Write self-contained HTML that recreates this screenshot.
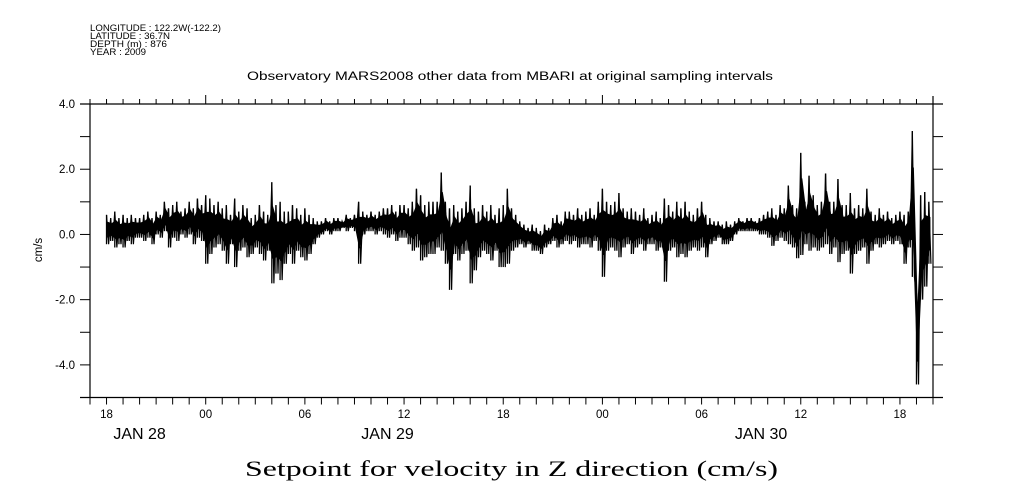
<!DOCTYPE html>
<html><head><meta charset="utf-8"><style>
html,body{margin:0;padding:0;background:#fff;}
svg{display:block;}
text{font-family:"Liberation Sans",sans-serif;fill:#000;}
</style></head><body>
<svg id="chart" width="1009" height="504" viewBox="0 0 1009 504" xmlns="http://www.w3.org/2000/svg">
<g font-size="9.5">
<text x="90" y="31" textLength="131" lengthAdjust="spacingAndGlyphs">LONGITUDE : 122.2W(-122.2)</text>
<text x="90" y="39" textLength="80" lengthAdjust="spacingAndGlyphs">LATITUDE : 36.7N</text>
<text x="90" y="47" textLength="77" lengthAdjust="spacingAndGlyphs">DEPTH (m) : 876</text>
<text x="90" y="55" textLength="56" lengthAdjust="spacingAndGlyphs">YEAR : 2009</text>
</g>
<text x="247" y="80" font-size="11.5" textLength="526" lengthAdjust="spacingAndGlyphs">Observatory MARS2008 other data from MBARI at original sampling intervals</text>
<g id="axes"></g>
<g id="series"></g>
<text transform="translate(42,250) rotate(-90)" text-anchor="middle" font-size="11.5">cm/s</text>
<text x="245" y="476" font-size="22" textLength="533" lengthAdjust="spacingAndGlyphs" style="font-family:'Liberation Serif',serif">Setpoint for velocity in Z direction (cm/s)</text>
</svg>
<script>
// data: hours since Jan 28 00:00, bins of 0.25 h starting at 18.0
const startHour = 18.0;
const stepHour = 0.25;
const hiVals = [
.6,.5,.7,.5, .6,.5,.6,.5, .5,.6,.7,.5, .7,.6,1.0,.8, .9,1.0,.7,.8, 1.0,.8,1.1,.9,
1.2,1.1,.9,1.0, .8,.9,.6,1.1, .7,.9,.8,.5, .6,.9,.7,.6, 1.6,.9,1.0,.7, .7,.9,.8,.6,
.8,.6,.5,.4, .4,.5,.4,.5, .5,.4,.6,.5, .6,1.0,.7,.6, .7,.6,.7,.8, .8,.9,.7,.9,
.9,.8,1.0,1.4, 1.2,.9,1.0,1.0, 1.0,1.9,1.0,.8, .9,.7,.8,1.0, 1.5,.8,.7,.9, .7,.9,.6,.8,
.9,1.4,.8,.6, .4,.3,.2,.3, .2,.1,.3,.2, .5,.6,.4,.7, .7,.6,.8,.6, .7,.8,.6,1.0,
1.4,1.0,.9,1.0, 1.27,.8,.7,.8, .7,.6,.8,.5, .6,.7,.5,1.1, .9,.7,1.0,.8, 1.0,.7,.6,.8,
1.0,.6,.5,.4, .4,.3,.4,.3, .4,.5,.4,.5, .5,.4,.5,.6, .7,.8,.6,.9, .8,1.5,.9,.8,
2.5,1.0,1.8,1.2, .9,1.0,1.87,1.0, 1.0,1.7,.9,.9, 1.27,.8,.9,.8, 1.4,.7,.6,.8, .6,.7,.5,.6,
.7,.6,.7,3.17, -1.8,1.2,1.3,1.0];
const loVals = [
-.3,-.2,-.4,-.3, -.4,-.2,-.3,-.1, -.1,-.2,-.1,-.3, 0,-.1,.1,-.4, -.1,-.2,0,-.1, 0,-.3,-.1,-.2,
-.9,-.6,-.4,-.3, -.5,-.9,-.3,-1.0, -.5,-.4,-.7,-.6, -.4,-.6,-.8,-.5, -1.5,-1.2,-1.4,-.9, -.6,-.9,-.5,-.7,
-.8,-.6,-.3,-.1, 0,.1,0,.1, .1,.2,.1,.2, .1,-.9,0,.1, .1,0,.1,0, -.1,0,-.2,-.1,
-.1,-.3,-.5,-.4, -.8,-.7,-.6,-.6, -.4,-.5,-.9,-1.7, -.6,-.8,-.6,-.5, -1.5,-1.1,-.7,-.5, -.6,-.8,-.5,-1.0,
-1.0,-.9,-.5,-.4, -.3,-.4,-.3,-.5, -.5,-.6,-.4,-.3, -.2,-.4,-.3,-.2, -.3,-.2,-.4,-.3, -.3,-.4,-.2,-.5,
-1.3,-.5,-.4,-.5, -.7,-.4,-.3,-.6, -.4,-.3,-.5,-.3, -.3,-.5,-.4,-1.45, -.5,-.4,-.7,-.6, -.7,-.5,-.4,-.5,
-.4,-.7,-.3,-.2, -.1,-.3,-.3,-.2, 0,.1,.1,.1, .1,.1,0,0, -.1,-.35,-.2,-.1, -.2,-.3,-.4,-.73,
-.63,-.3,-.5,-.4, -.5,-.4,-.3,-.6, -.4,-.85,-.6,-.5, -1.2,-.6,-.5,-.4, -.9,-.5,-.3,-.4, -.3,-.2,-.3,-.2,
-.3,-.9,-.4,-1.3, -4.6,-2.0,-1.6,-.9];
const yTickVals = [4, 3, 2, 1, 0, -1, -2, -3, -4];
const yTickLabels = ["4.0", "", "2.0", "", "0.0", "", "-2.0", "", "-4.0"];
const xLabelHours = [18, 24, 30, 36, 42, 48, 54, 60, 66];
const xLabelTexts = ["18", "00", "06", "12", "18", "00", "06", "12", "18"];
const dayHours = [20, 35, 57.6];
const dayLabels = ["JAN 28", "JAN 29", "JAN 30"];
const xMin = 17, xMax = 68, yMin = -5, yMax = 4;

const L = 90, R = 933, T = 104, B = 397.5;
const xs = h => L + (h - xMin) / (xMax - xMin) * (R - L);
const ys = v => B - (v - yMin) / (yMax - yMin) * (B - T);
const NS = "http://www.w3.org/2000/svg";
const axes = document.getElementById('axes');
const series = document.getElementById('series');
function mk(tag, attrs, parent) {
  const e = document.createElementNS(NS, tag);
  for (const k in attrs) e.setAttribute(k, attrs[k]);
  parent.appendChild(e);
  return e;
}
let e;
e = mk('line', {x1: 80, y1: T, x2: 943, y2: T, stroke: '#000', 'stroke-width': 1.2}, axes);


e = mk('line', {x1: 80, y1: B, x2: 943, y2: B, stroke: '#000', 'stroke-width': 1.2}, axes);


e = mk('line', {x1: L, y1: T, x2: L, y2: B, stroke: '#000', 'stroke-width': 1.2}, axes);


e = mk('line', {x1: R, y1: T - 8, x2: R, y2: B, stroke: '#000', 'stroke-width': 1.2}, axes);


yTickVals.forEach((v, i) => {
  const y = ys(v);
  let t = mk('line', {x1: 80, y1: y, x2: L, y2: y, stroke: '#000', 'stroke-width': 1}, axes);
  
  
  t = mk('line', {x1: R, y1: y, x2: 943, y2: y, stroke: '#000', 'stroke-width': 1}, axes);
  
  
  if (yTickLabels[i]) {
    const tx = mk('text', {x: 75, y: y + 4, 'text-anchor': 'end', 'font-size': 11.5}, axes);
    tx.textContent = yTickLabels[i];
    
    
  }
});
for (let h = xMin; h <= xMax; h++) {
  const x = xs(h);
  const major = (h % 24 === 0);
  let t = mk('line', {x1: x, y1: B, x2: x, y2: B + 7, stroke: '#000', 'stroke-width': 1}, axes);
  
  
  t = mk('line', {x1: x, y1: T, x2: x, y2: major ? T - 9 : T - 5, stroke: '#000', 'stroke-width': 1}, axes);
  
  
}
xLabelHours.forEach((h, i) => {
  const tx = mk('text', {x: xs(h), y: 418, 'text-anchor': 'middle', 'font-size': 11.5}, axes);
  tx.textContent = xLabelTexts[i];
  
  
});
dayHours.forEach((h, i) => {
  const tx = mk('text', {x: xs(h), y: 439, 'text-anchor': 'middle', 'font-size': 16}, axes);
  tx.textContent = dayLabels[i];
  
  
});
const up = [], dn = [];
hiVals.forEach((hv, i) => {
  const lv = loVals[i];
  const mid = (hv + lv) / 2;
  const x = xs(startHour + i * stepHour + stepHour / 4).toFixed(2);
  up.push(x + ',' + ys(mid + 0.5 * (hv - mid)).toFixed(2));
  dn.unshift(x + ',' + ys(mid + 0.5 * (lv - mid)).toFixed(2));
});
const band = mk('polygon', {points: up.concat(dn).join(' '), fill: '#000', stroke: '#000', 'stroke-width': 1}, series);


hiVals.forEach((hv, i) => {
  const x = xs(startHour + i * stepHour);
  const ln = mk('line', {x1: x, y1: ys(hv), x2: x, y2: ys(loVals[i]), stroke: '#000', 'stroke-width': 1.3}, series);
  
  
});
const pts = [];
hiVals.forEach((hv, i) => {
  const h = startHour + i * stepHour;
  pts.push(xs(h).toFixed(2) + ',' + ys(hv).toFixed(2));
  pts.push(xs(h + stepHour / 2).toFixed(2) + ',' + ys(loVals[i]).toFixed(2));
});
const pl = mk('polyline', {points: pts.join(' '), fill: 'none', stroke: '#000', 'stroke-width': 1.2}, series);


</script>
</body></html>
